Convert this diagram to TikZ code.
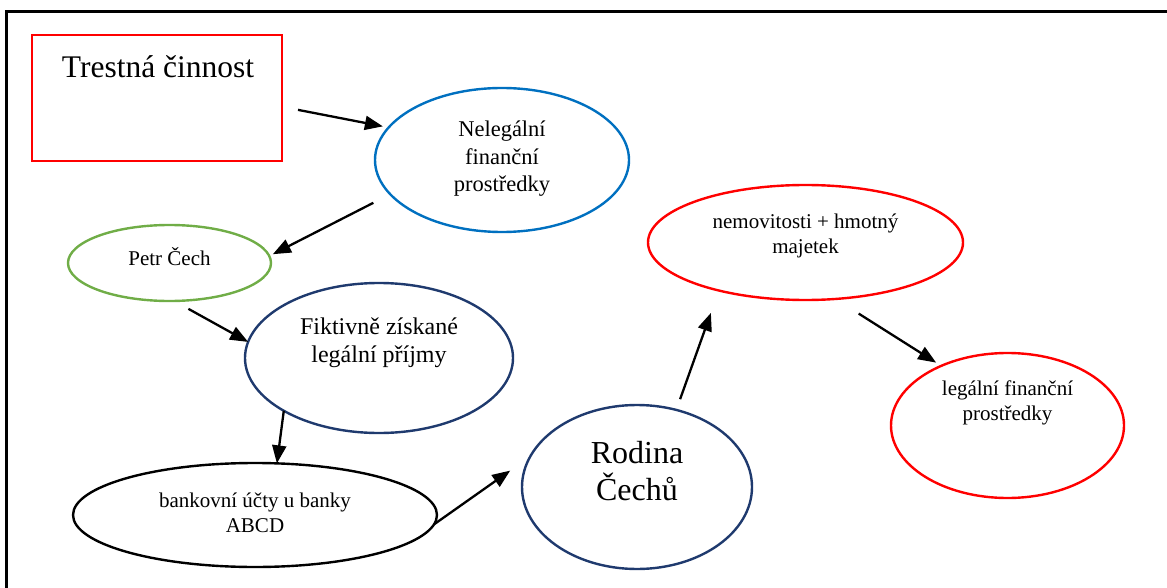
\documentclass[tikz,border=0pt]{standalone}
\usepackage{fontspec}
\setmainfont{Liberation Serif}
\usetikzlibrary{shapes.geometric,arrows.meta}
\definecolor{cRed}{HTML}{FF0000}
\definecolor{cBlue}{HTML}{0070C0}
\definecolor{cGreen}{HTML}{70AD47}
\definecolor{cNavy}{HTML}{1F3A6E}
\begin{document}
\begin{tikzpicture}[x=1pt,y=-1pt,
  ell/.style={ellipse, draw, line width=2.4pt, inner sep=0pt, outer sep=0pt},
  boxr/.style={rectangle, draw=cRed, line width=2.4pt, inner sep=0pt, outer sep=0pt},
  lbl/.style={align=center, inner sep=0pt, text=black},
  fs/.style={font=\fontsize{21}{24.5}\selectfont},
  arr/.style={-{Triangle[length=18pt,width=14pt]}, line width=2.3pt, black}]
\useasboundingbox (0,0) rectangle (1167,588);

% outer frame (top and left edges)
\draw[line width=3pt] (6,588) -- (6,12) -- (1167,12);

% shapes
\node[boxr, minimum width=250pt, minimum height=126pt] (trest) at (157,98) {};
\node[lbl, anchor=base, font=\fontsize{31.5}{36}\selectfont] (trestT) at (158,78) {Trestná činnost};

\node[ell, draw=cBlue, minimum width=254pt, minimum height=144pt] (nelegal) at (502,160) {};
\node[lbl, font=\fontsize{22.5}{27.5}\selectfont] (nelegalT) at (502,159) {Nelegální\\finanční\\prostředky};

\node[ell, draw=cGreen, minimum width=203pt, minimum height=76pt] (petr) at (169.5,263) {};
\node[lbl, fs] (petrT) at (169.5,257) {Petr Čech};

\node[ell, draw=cNavy, minimum width=268pt, minimum height=150pt] (fikt) at (379,358) {};
\node[lbl, font=\fontsize{24}{28}\selectfont] (fiktT) at (379,343) {Fiktivně získané\\legální příjmy};

\node[ell, draw=black, minimum width=364pt, minimum height=104pt] (bank) at (255,515) {};
\node[lbl, fs] (bankT) at (255,513) {bankovní účty u banky\\ABCD};

\node[ell, draw=cNavy, minimum width=230pt, minimum height=164pt] (rodina) at (637,487) {};
\node[lbl, font=\fontsize{32}{37}\selectfont] (rodinaT) at (637,471) {Rodina\\Čechů};

\node[ell, draw=cRed, minimum width=315pt, minimum height=115pt] (nemov) at (805.5,242.5) {};
\node[lbl, fs] (nemovT) at (805.5,236) {nemovitosti + hmotný\\majetek};

\node[ell, draw=cRed, minimum width=233pt, minimum height=145pt] (legal) at (1007.5,425.5) {};
\node[lbl, fs] (legalT) at (1007.5,403) {legální finanční\\prostředky};

% connectors
\draw[arr, shorten <=16.3pt, shorten >=5.9pt] (trest.-4.03) -- (nelegal.164.4);
\draw[arr, shorten <=19pt, shorten >=4pt] (nelegal.197.3) -- (petr.4.8);
\draw[arr, shorten <=16.3pt] (petr.-83.8) -- (fikt.173.5);
\draw[arr] (fikt.209.65) -- (bank.67.9);
\draw[arr, shorten >=24.6pt] (bank.-3.2) -- (rodina.164.96);
\draw[arr, shorten <=11.4pt, shorten >=23.8pt] (rodina.63.1) -- (nemov.209.1);
\draw[arr, shorten <=27.4pt, shorten >=6.1pt] (nemov.-62.6) -- (legal.138.7);
\end{tikzpicture}
\end{document}
